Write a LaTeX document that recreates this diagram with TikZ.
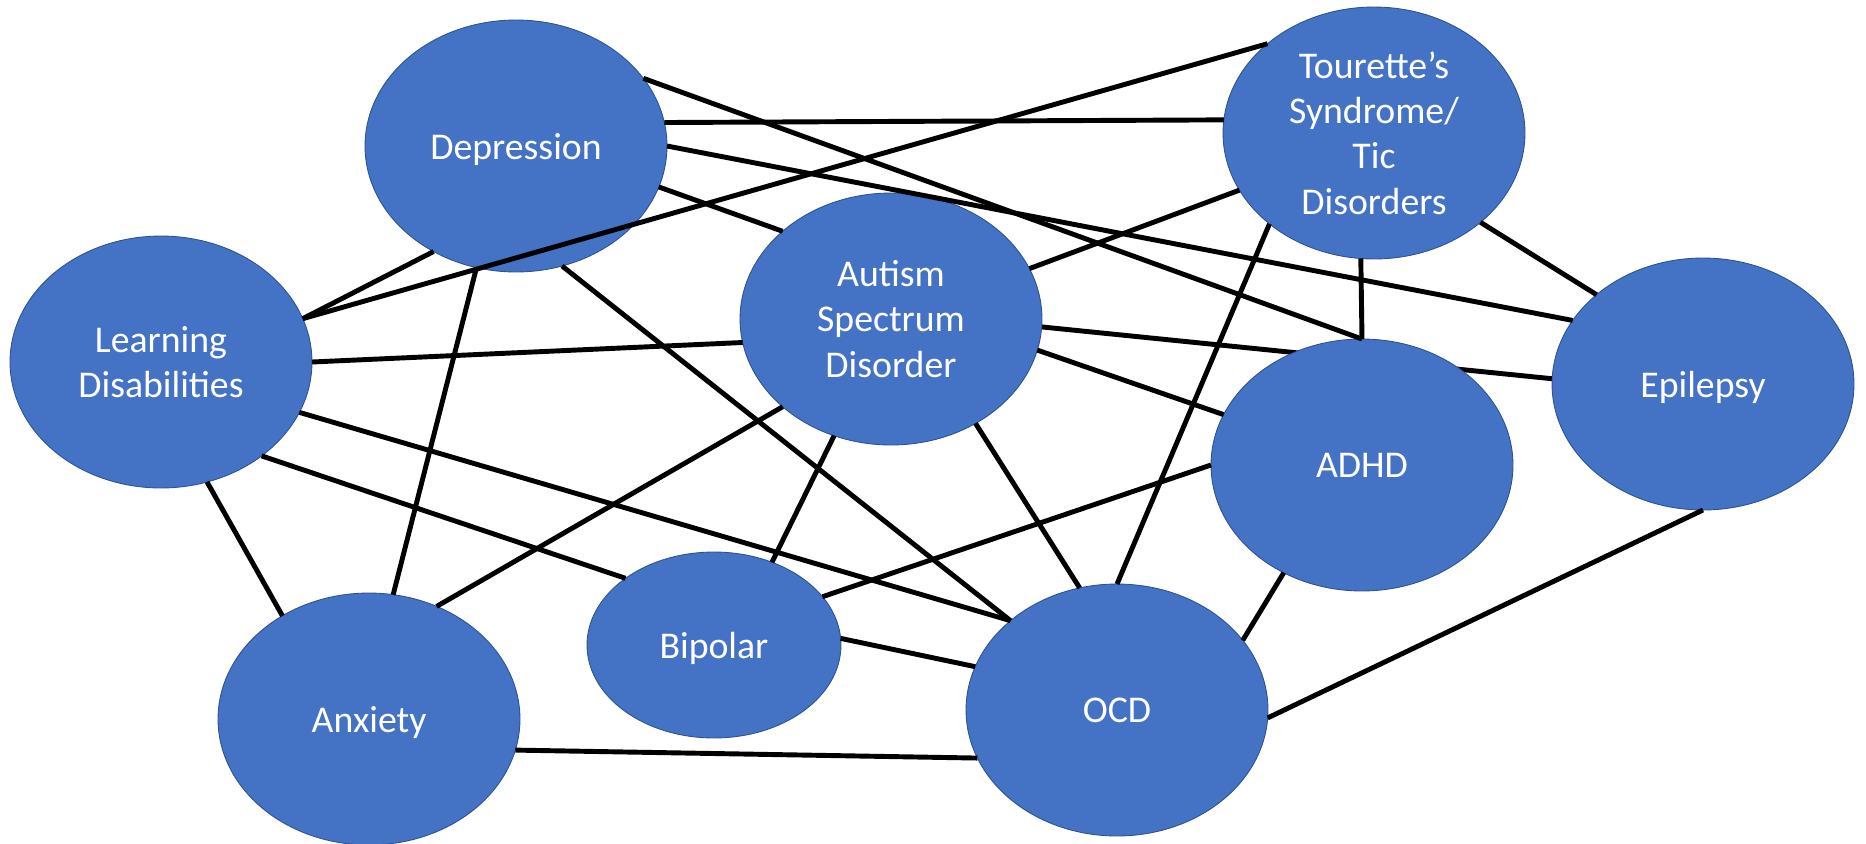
\documentclass[tikz,border=0pt]{standalone}
\usepackage{fontspec}
\setmainfont{Carlito}
\usetikzlibrary{shapes.geometric,backgrounds}
\definecolor{nodefill}{HTML}{4472C4}
\definecolor{nodeedge}{HTML}{2F528F}
\tikzset{
  disorder/.style={ellipse, draw=nodeedge, line width=0.5pt, fill=nodefill,
    text=white, align=center, inner sep=0pt, outer sep=0pt,
    minimum width=6.04cm, minimum height=5.04cm,
    font=\fontsize{21.5}{25.8}\selectfont},
  oneline/.style={disorder, text depth=0pt},
  small disorder/.style={oneline, minimum width=5.08cm, minimum height=3.72cm},
  link/.style={draw=black, line width=2.8pt}
}
\begin{document}
\begin{tikzpicture}[x=0.02cm, y=-0.02cm]
\useasboundingbox (0,0) rectangle (1866,843);
\node[oneline] (dep) at (516,146) {Depression};
\node[disorder] (tou) at (1374,133) {Tourette’s\\Syndrome/\\Tic\\Disorders};
\node[disorder] (lea) at (161,362) {Learning\\Disabilities};
\node[disorder] (aut) at (891,319) {Autism\\Spectrum\\Disorder};
\node[oneline] (adh) at (1362,465) {ADHD};
\node[oneline] (epi) at (1703,384) {Epilepsy};
\node[oneline] (anx) at (369,719) {Anxiety};
\node[small disorder] (bip) at (714,645) {Bipolar};
\node[oneline] (ocd) at (1117,710) {OCD};
\begin{pgfonlayer}{background}
\draw[link] (aut.357) -- (epi.178.5);
\end{pgfonlayer}
\draw[link] (dep.9.9) -- (tou.175.1);
\draw[link] (dep.28.4) -- (adh.90);
\draw[link] (dep.0.4) -- (epi.154.5);
\draw[link] (dep.344.8) -- (aut.141.1);
\draw[link] (dep.291.1) -- (ocd.140.6);
\draw[link] (dep.252) -- (anx.79.5);
\draw[link] (dep.232.2) -- (lea.17.2);
\draw[link] (lea.17.2) -- (tou.140.6);
\draw[link] (lea.0) -- (aut.189);
\draw[link] (lea.340.5) -- (ocd.140.6);
\draw[link] (lea.317.6) -- (bip.143.9);
\draw[link] (lea.291.2) -- (anx.130);
\draw[link] (aut.20.1) -- (tou.203.8);
\draw[link] (aut.348.8) -- (adh.160.2);
\draw[link] (aut.309) -- (ocd.107.7);
\draw[link] (aut.244) -- (bip.55.7);
\draw[link] (aut.219.5) -- (anx.59.2);
\draw[link] (tou.221.9) -- (ocd.90);
\draw[link] (tou.320) -- (epi.140);
\draw[link] (tou.264.6) -- (adh.90);
\draw[link] (adh.180) -- (bip.24.8);
\draw[link] (adh.234.5) -- (ocd.29.2);
\draw[link] (bip.3.6) -- (ocd.163.2);
\draw[link] (anx.348.9) -- (ocd.199.8);
\draw[link] (epi.270) -- (ocd.357.3);
\end{tikzpicture}
\end{document}
